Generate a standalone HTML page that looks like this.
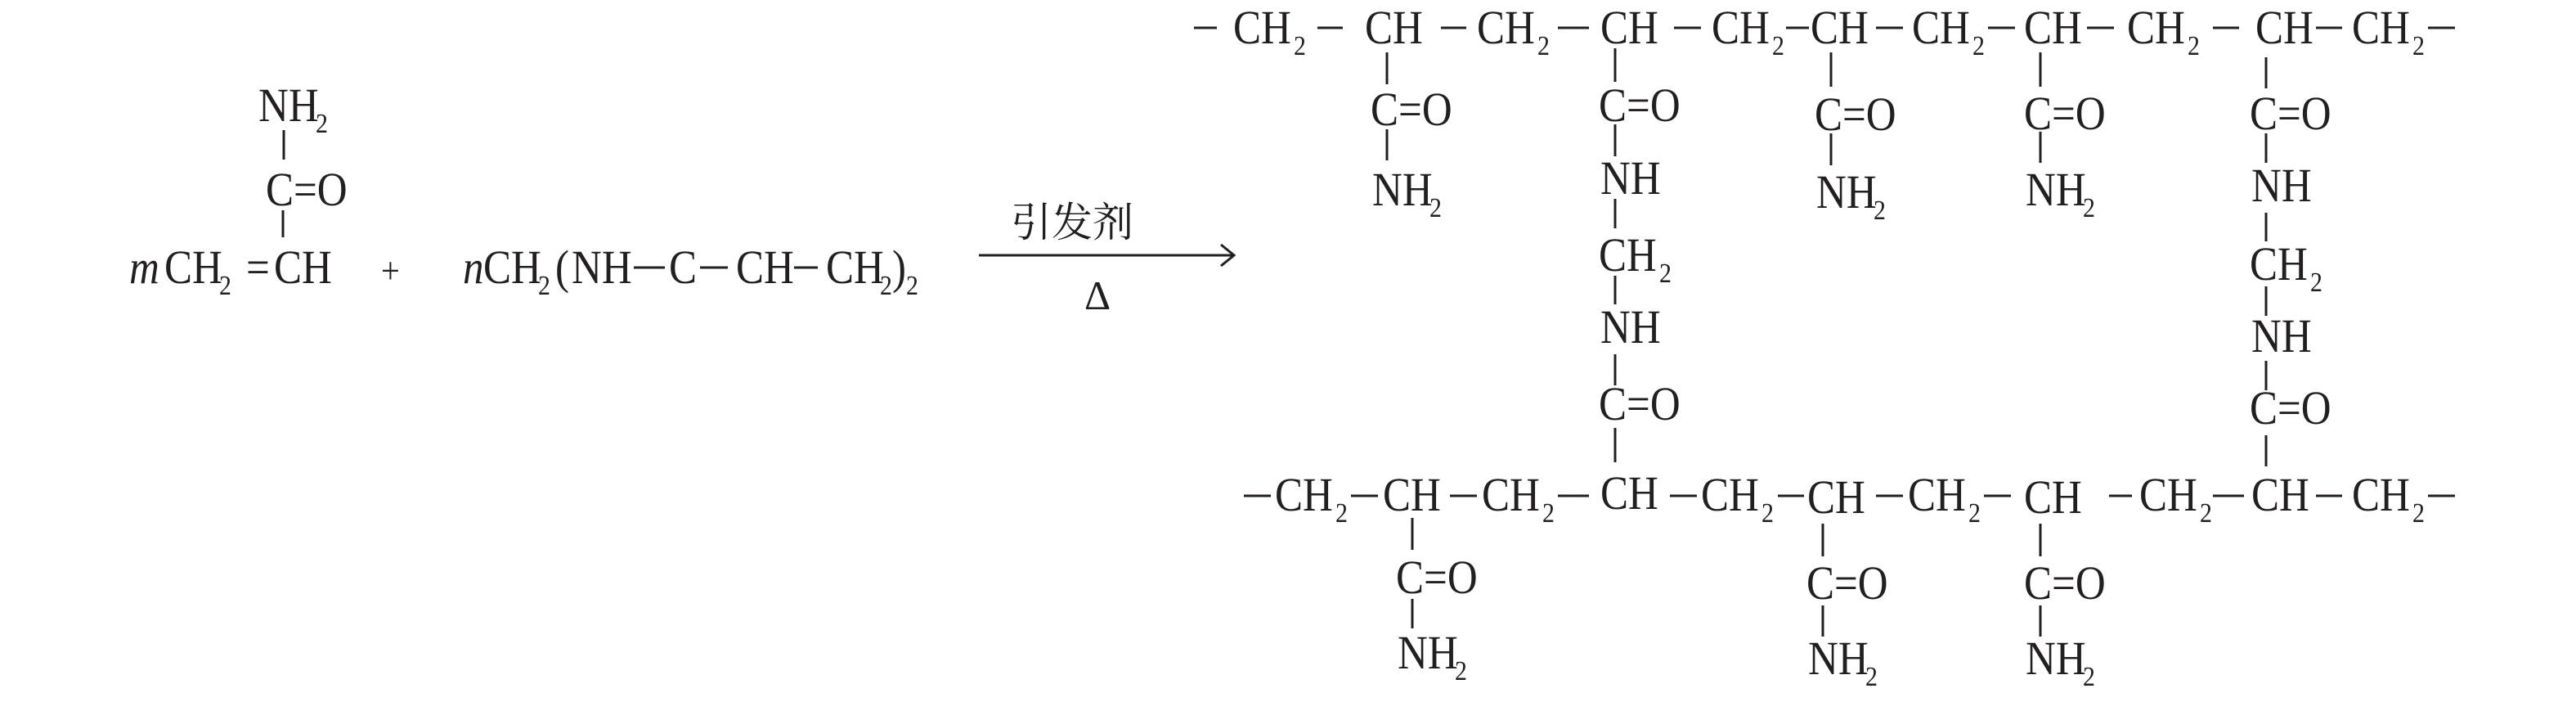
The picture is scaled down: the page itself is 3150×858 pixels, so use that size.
<!DOCTYPE html>
<html><head><meta charset="utf-8"><style>
html,body{margin:0;padding:0;background:#fff;}
svg{display:block;}
text{font-family:"Liberation Serif",serif;font-size:58px;fill:#231f20;transform-box:fill-box;transform-origin:0 0;transform:scaleX(0.88);}
.s{font-size:34px;}
.i{font-style:italic;}
.cjk{font-family:"Liberation Serif","Noto Serif CJK SC","Noto Sans CJK SC",serif;font-size:50px;transform:none;}
line{stroke:#231f20;stroke-width:3;}
</style></head><body>
<svg width="3150" height="858" viewBox="0 0 3150 858" xmlns="http://www.w3.org/2000/svg">
<!-- Left: acrylamide -->
<text x="316" y="148">NH</text><text class="s" x="386" y="162">2</text>
<line x1="347" y1="159" x2="347" y2="195"/>
<text x="325" y="251">C=O</text>
<line x1="346" y1="257" x2="346" y2="290"/>
<text x="158" y="346" class="i">m</text>
<text x="201" y="346">CH</text><text class="s" x="268" y="360">2</text>
<text x="301" y="346">=</text>
<text x="335" y="346">CH</text>
<text x="466" y="346" style="font-size:46px">+</text>
<!-- crosslinker -->
<text x="566" y="346" class="i">n</text>
<text x="591" y="346">CH</text><text class="s" x="658" y="360">2</text>
<text x="679" y="346">(</text>
<text x="699" y="346">NH</text>
<line x1="775" y1="327" x2="813" y2="327"/>
<text x="818" y="346">C</text>
<line x1="856" y1="327" x2="890" y2="327"/>
<text x="900" y="346">CH</text>
<line x1="971" y1="327" x2="1000" y2="327"/>
<text x="1010" y="346">CH</text><text class="s" x="1076" y="360">2</text>
<text x="1091" y="346">)</text>
<text x="1108" y="360" class="s">2</text>
<!-- arrow -->
<text x="1236" y="289" class="cjk">引发剂</text>
<line x1="1197" y1="312" x2="1508" y2="312"/>
<polyline points="1493,299 1509,312 1493,325" fill="none" stroke="#231f20" stroke-width="3"/>
<text x="1326" y="378" style="font-family:'Liberation Serif',serif;font-size:50px;transform:none">Δ</text>

<!-- Top chain, baseline 53, dash y 34 -->
<line x1="1460" y1="34" x2="1488" y2="34"/>
<text x="1508" y="53">CH</text><text class="s" x="1582" y="67">2</text>
<line x1="1611" y1="34" x2="1642" y2="34"/>
<text x="1669" y="53">CH</text>
<line x1="1762" y1="34" x2="1793" y2="34"/>
<text x="1806" y="53">CH</text><text class="s" x="1880" y="67">2</text>
<line x1="1905" y1="34" x2="1943" y2="34"/>
<text x="1957" y="53">CH</text>
<line x1="2047" y1="34" x2="2080" y2="34"/>
<text x="2093" y="53">CH</text><text class="s" x="2167" y="67">2</text>
<line x1="2184" y1="34" x2="2212" y2="34"/>
<text x="2214" y="53">CH</text>
<line x1="2294" y1="34" x2="2327" y2="34"/>
<text x="2338" y="53">CH</text><text class="s" x="2412" y="67">2</text>
<line x1="2431" y1="34" x2="2464" y2="34"/>
<text x="2475" y="53">CH</text>
<line x1="2552" y1="34" x2="2585" y2="34"/>
<text x="2601" y="53">CH</text><text class="s" x="2675" y="67">2</text>
<line x1="2706" y1="34" x2="2738" y2="34"/>
<text x="2758" y="53">CH</text>
<line x1="2832" y1="34" x2="2864" y2="34"/>
<text x="2876" y="53">CH</text><text class="s" x="2950" y="67">2</text>
<line x1="2969" y1="34" x2="3002" y2="34"/>

<!-- top col1 x1696 -->
<line x1="1696" y1="64" x2="1696" y2="103"/>
<text x="1676" y="153">C=O</text>
<line x1="1696" y1="158" x2="1696" y2="196"/>
<text x="1678" y="251">NH</text><text class="s" x="1748" y="265">2</text>
<!-- col2 x1975 crosslink -->
<line x1="1975" y1="59" x2="1975" y2="100"/>
<text x="1955" y="148">C=O</text>
<line x1="1975" y1="152" x2="1975" y2="191"/>
<text x="1957" y="237">NH</text>
<line x1="1975" y1="243" x2="1975" y2="279"/>
<text x="1955" y="331">CH</text><text class="s" x="2029" y="345">2</text>
<line x1="1975" y1="337" x2="1975" y2="372"/>
<text x="1957" y="419">NH</text>
<line x1="1975" y1="433" x2="1975" y2="471"/>
<text x="1955" y="513">C=O</text>
<line x1="1975" y1="523" x2="1975" y2="565"/>
<!-- col3 x2239 -->
<line x1="2239" y1="64" x2="2239" y2="106"/>
<text x="2219" y="159">C=O</text>
<line x1="2239" y1="163" x2="2239" y2="202"/>
<text x="2221" y="254">NH</text><text class="s" x="2291" y="268">2</text>
<!-- col4 x2495 -->
<line x1="2495" y1="64" x2="2495" y2="106"/>
<text x="2475" y="158">C=O</text>
<line x1="2495" y1="161" x2="2495" y2="199"/>
<text x="2477" y="251">NH</text><text class="s" x="2547" y="265">2</text>
<!-- col5 x2771 crosslink -->
<line x1="2771" y1="70" x2="2771" y2="108"/>
<text x="2751" y="158">C=O</text>
<line x1="2771" y1="163" x2="2771" y2="199"/>
<text x="2753" y="246">NH</text>
<line x1="2771" y1="260" x2="2771" y2="295"/>
<text x="2751" y="342">CH</text><text class="s" x="2825" y="356">2</text>
<line x1="2771" y1="350" x2="2771" y2="386"/>
<text x="2753" y="430">NH</text>
<line x1="2771" y1="441" x2="2771" y2="477"/>
<text x="2751" y="518">C=O</text>
<line x1="2771" y1="532" x2="2771" y2="570"/>

<!-- Bottom chain, baseline 624, dash y 606 -->
<line x1="1521" y1="606" x2="1554" y2="606"/>
<text x="1559" y="624">CH</text><text class="s" x="1633" y="638">2</text>
<line x1="1652" y1="606" x2="1685" y2="606"/>
<text x="1691" y="624">CH</text>
<line x1="1773" y1="606" x2="1806" y2="606"/>
<text x="1812" y="624">CH</text><text class="s" x="1886" y="638">2</text>
<line x1="1905" y1="606" x2="1943" y2="606"/>
<text x="1957" y="622">CH</text>
<line x1="2042" y1="606" x2="2075" y2="606"/>
<text x="2080" y="624">CH</text><text class="s" x="2154" y="638">2</text>
<line x1="2174" y1="606" x2="2206" y2="606"/>
<text x="2210" y="627">CH</text>
<line x1="2294" y1="606" x2="2327" y2="606"/>
<text x="2333" y="624">CH</text><text class="s" x="2407" y="638">2</text>
<line x1="2426" y1="606" x2="2459" y2="606"/>
<text x="2475" y="627">CH</text>
<line x1="2579" y1="606" x2="2607" y2="606"/>
<text x="2616" y="624">CH</text><text class="s" x="2690" y="638">2</text>
<line x1="2706" y1="606" x2="2744" y2="606"/>
<text x="2753" y="624">CH</text>
<line x1="2832" y1="606" x2="2864" y2="606"/>
<text x="2876" y="624">CH</text><text class="s" x="2950" y="638">2</text>
<line x1="2969" y1="606" x2="3002" y2="606"/>

<!-- bottom branches -->
<line x1="1727" y1="633" x2="1727" y2="672"/>
<text x="1707" y="725">C=O</text>
<line x1="1727" y1="732" x2="1727" y2="768"/>
<text x="1709" y="817">NH</text><text class="s" x="1779" y="831">2</text>

<line x1="2229" y1="640" x2="2229" y2="680"/>
<text x="2209" y="732">C=O</text>
<line x1="2229" y1="740" x2="2229" y2="778"/>
<text x="2211" y="824">NH</text><text class="s" x="2281" y="838">2</text>

<line x1="2495" y1="640" x2="2495" y2="680"/>
<text x="2475" y="732">C=O</text>
<line x1="2495" y1="740" x2="2495" y2="778"/>
<text x="2477" y="824">NH</text><text class="s" x="2547" y="838">2</text>
</svg>
</body></html>
